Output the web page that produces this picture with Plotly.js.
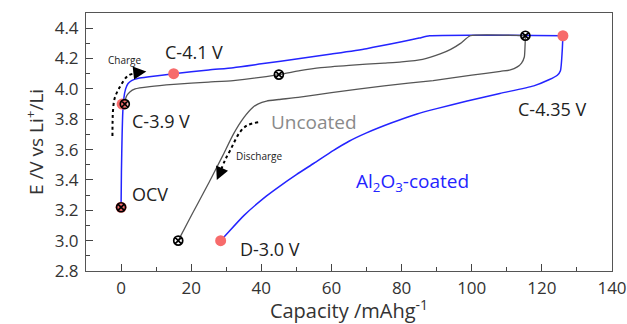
<!DOCTYPE html>
<html>
<head>
<meta charset="utf-8">
<script src="https://cdn.plot.ly/plotly-3.0.1.min.js"></script>
<style>html,body{margin:0;padding:0;background:#fff;}#chart{width:627px;height:324px;}</style>
</head>
<body>
<div id="chart"></div>
<script>
// Al2O3-coated (blue) charge / discharge
const coatedChargeX = [0, 0.1, 0.3, 0.5, 0.8, 1.3, 2, 3, 5, 8, 15, 25, 32, 40, 51, 60, 70, 80, 85, 88, 126];
const coatedChargeY = [3.22, 3.45, 3.7, 3.85, 3.94, 4.0, 4.035, 4.055, 4.07, 4.08, 4.10, 4.125, 4.14, 4.165, 4.20, 4.23, 4.265, 4.31, 4.335, 4.35, 4.35];
const coatedDischX = [126, 125.8, 125.3, 124.4, 122, 117.7, 108, 98.7, 90, 84.4, 77, 70, 65, 60.6, 55, 50, 45, 41.5, 35, 30, 28.4];
const coatedDischY = [4.35, 4.25, 4.12, 4.09, 4.06, 4.02, 3.97, 3.92, 3.87, 3.835, 3.775, 3.71, 3.655, 3.595, 3.51, 3.435, 3.355, 3.295, 3.165, 3.04, 3.0];
// Uncoated (gray) charge / discharge
const uncChargeX = [1.06, 1.5, 2.5, 4, 8.2, 15, 25, 32, 45, 51, 57, 65, 75, 80, 86, 91, 94, 96.8, 99.6, 115.3];
const uncChargeY = [3.91, 3.95, 3.98, 4.0, 4.015, 4.03, 4.045, 4.055, 4.094, 4.12, 4.14, 4.155, 4.17, 4.178, 4.195, 4.23, 4.26, 4.30, 4.35, 4.35];
const uncDischX = [115.3, 115.2, 115, 114.2, 113, 111, 108.2, 100, 89, 75, 60, 51, 45, 41.5, 39, 37.7, 35, 32, 29, 25, 22, 19, 16.3];
const uncDischY = [4.35, 4.28, 4.21, 4.17, 4.145, 4.125, 4.116, 4.09, 4.055, 4.02, 3.975, 3.945, 3.93, 3.92, 3.90, 3.88, 3.81, 3.70, 3.56, 3.38, 3.25, 3.12, 3.0];
// state-of-charge markers
const coatedPtX = [0, 0.3, 15, 126, 28.4];
const coatedPtY = [3.22, 3.9, 4.1, 4.35, 3.0];
const uncPtX = [0, 1.06, 45, 115.3, 16.3];
const uncPtY = [3.22, 3.9, 4.094, 4.35, 3.0];
// guide arrows
const chargeArrowX = [-2.46, -2.42, -2.3, -1.8, -0.4, 2, 5];
const chargeArrowY = [3.69, 3.78, 3.857, 3.94, 4.01, 4.087, 4.106];
const dischArrowX = [39.1, 36, 33.9, 31.1, 29.6, 28.4];
const dischArrowY = [3.78, 3.76, 3.715, 3.594, 3.528, 3.46];

const BLUE = '#2424ff', GRAY = '#555555', RED = '#f76b6b';
const F = 'Open Sans, sans-serif';

const traces = [
  {x: coatedChargeX, y: coatedChargeY, mode: 'lines', line: {color: BLUE, width: 1.5, shape: 'spline', smoothing: 0.6}},
  {x: coatedDischX, y: coatedDischY, mode: 'lines', line: {color: BLUE, width: 1.5, shape: 'spline', smoothing: 0.6}},
  {x: uncChargeX, y: uncChargeY, mode: 'lines', line: {color: GRAY, width: 1.3, shape: 'spline', smoothing: 0.5}},
  {x: uncDischX, y: uncDischY, mode: 'lines', line: {color: GRAY, width: 1.3, shape: 'spline', smoothing: 0.5}},
  {x: chargeArrowX, y: chargeArrowY, mode: 'lines', line: {color: '#000', width: 2, dash: 'dot', shape: 'spline'}},
  {x: dischArrowX, y: dischArrowY, mode: 'lines', line: {color: '#000', width: 2, dash: 'dot', shape: 'spline'}},
  {x: coatedPtX, y: coatedPtY, mode: 'markers', marker: {color: RED, size: 11, line: {width: 0}}},
  {x: uncPtX, y: uncPtY, mode: 'markers', marker: {symbol: 'circle-x-open', color: '#000', size: 9, line: {width: 1.7, color: '#000'}}}
];

function txt(t, x, y, size, color) {
  return {text: t, x: x, y: y, xref: 'x', yref: 'y', showarrow: false, font: {family: F, size: size, color: color || '#222'}};
}

const layout = {
  width: 627, height: 324,
  margin: {l: 86, r: 15, t: 13, b: 53},
  paper_bgcolor: '#fff', plot_bgcolor: '#fff',
  showlegend: false,
  font: {family: F, color: '#333'},
  xaxis: {
    range: [-10, 140], dtick: 20, tick0: 0, ticks: 'inside', ticklen: 7, tickcolor: '#444',
    minor: {dtick: 10, ticks: 'inside', ticklen: 4, tickcolor: '#444'},
    showline: true, linecolor: '#555', linewidth: 1, mirror: true, showgrid: false, zeroline: false,
    tickfont: {family: F, size: 17, color: '#333'}, ticklabelstandoff: 2,
    title: {text: 'Capacity /mAhg<sup>-1</sup>', font: {family: F, size: 20, color: '#333'}, standoff: 6}
  },
  yaxis: {
    range: [2.8, 4.5], dtick: 0.2, tick0: 2.8, tickformat: '.1f', ticks: 'inside', ticklen: 7, tickcolor: '#444',
    minor: {dtick: 0.1, ticks: 'inside', ticklen: 4, tickcolor: '#444'},
    showline: true, linecolor: '#555', linewidth: 1, mirror: true, showgrid: false, zeroline: false,
    tickfont: {family: F, size: 17, color: '#333'}, ticklabelstandoff: 3,
    title: {text: 'E /V vs Li<sup>+</sup>/Li', font: {family: F, size: 19, color: '#333'}, standoff: 6}
  },
  annotations: [
    txt('C-4.1 V', 20.8, 4.24, 18),
    txt('C-3.9 V', 11.5, 3.79, 18),
    txt('OCV', 8.2, 3.305, 18),
    txt('D-3.0 V', 42.5, 2.947, 18),
    txt('C-4.35 V', 123, 3.868, 18),
    txt('Uncoated', 55, 3.785, 19, '#8a8a8a'),
    txt('Al<sub>2</sub>O<sub>3</sub>-coated', 83, 3.385, 19, BLUE),
    txt('Charge', 1.1, 4.19, 10, '#222'),
    txt('Discharge', 39.6, 3.56, 10, '#222'),
    {x: 7.2, y: 4.114, xref: 'x', yref: 'y', ax: -9, ay: 1, showarrow: true, arrowhead: 2, arrowsize: 1.3, arrowwidth: 2, arrowcolor: '#000', text: ''},
    {x: 27.3, y: 3.40, xref: 'x', yref: 'y', ax: 4, ay: -9, showarrow: true, arrowhead: 2, arrowsize: 1.3, arrowwidth: 2, arrowcolor: '#000', text: ''}
  ]
};

Plotly.newPlot('chart', traces, layout, {staticPlot: true, displayModeBar: false});
</script>
</body>
</html>
